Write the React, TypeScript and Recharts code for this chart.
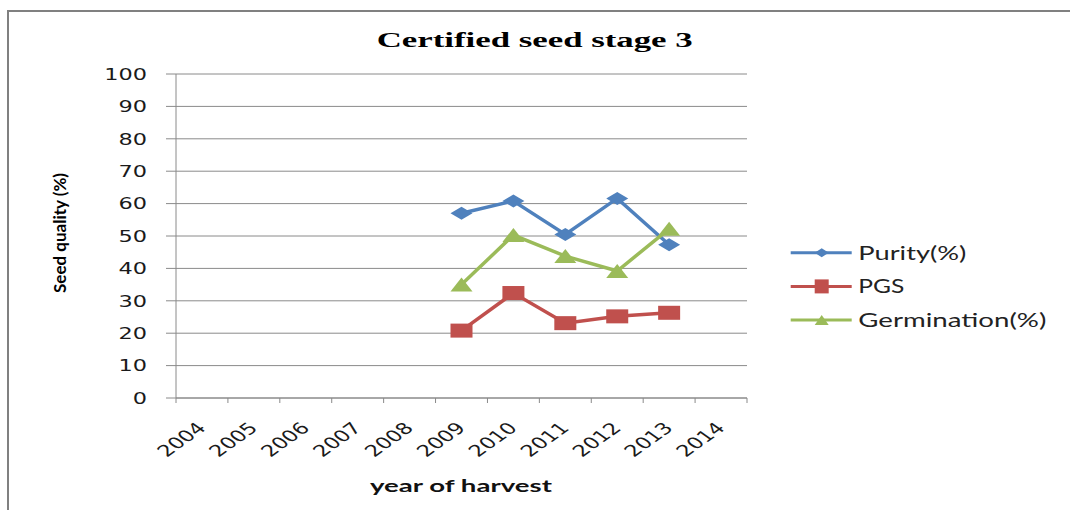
import { LineChart, Line, XAxis, YAxis, CartesianGrid } from "recharts";

const yearLabels = ["2004", "2005", "2006", "2007", "2008", "2009", "2010", "2011", "2012", "2013", "2014"];
const harvestYears = [2009, 2010, 2011, 2012, 2013];
const purity = [57, 60.8, 50.5, 61.6, 47.3];
const pgs = [20.8, 32.4, 23.1, 25.2, 26.3];
const germination = [35, 50.3, 43.8, 39.2, 52.2];
const yTicks = [0, 10, 20, 30, 40, 50, 60, 70, 80, 90, 100];

const BLUE = "#4f81bd";
const RED = "#c0504d";
const GREEN = "#9bbb59";
const GRID = "#8a8a8a";

const data = harvestYears.map((year, i) => ({
  year,
  purity: purity[i],
  pgs: pgs[i],
  germination: germination[i],
}));

// tick values at category boundaries (x.5) and at category centres (labels)
const xTicks: number[] = [];
yearLabels.forEach((label) => {
  const y = Number(label);
  xTicks.push(y - 0.5, y);
});
xTicks.push(Number(yearLabels[yearLabels.length - 1]) + 0.5);

const tickFont = "'DejaVu Sans', sans-serif";

function XTick(props: any) {
  const { x, y, payload } = props;
  const v = payload.value as number;
  if (v % 1 !== 0) {
    return <line x1={x} y1={y} x2={x} y2={y + 5} stroke={GRID} strokeWidth={1} />;
  }
  return (
    <g transform={`translate(${x + 5},${y + 31}) scale(1.4,1) rotate(-45)`}>
      <text textAnchor="end" fontFamily={tickFont} fontSize={16} fill="#1a1a1a">
        {String(v)}
      </text>
    </g>
  );
}

function YTick(props: any) {
  const { x, y, payload } = props;
  return (
    <g transform={`translate(${x},${y}) scale(1.4,1)`}>
      <text textAnchor="end" dy="0.36em" fontFamily={tickFont} fontSize={16} fill="#1a1a1a">
        {payload.value}
      </text>
    </g>
  );
}

function Diamond({ cx, cy, w = 11, h = 6.5, fill }: any) {
  if (cx == null || cy == null) return null;
  return <polygon points={`${cx},${cy - h} ${cx + w},${cy} ${cx},${cy + h} ${cx - w},${cy}`} fill={fill} />;
}

function Square({ cx, cy, w = 11, h = 7, fill }: any) {
  if (cx == null || cy == null) return null;
  return <rect x={cx - w} y={cy - h} width={w * 2} height={h * 2} fill={fill} />;
}

function Triangle({ cx, cy, w = 11, h = 7, fill }: any) {
  if (cx == null || cy == null) return null;
  return <polygon points={`${cx},${cy - h} ${cx + w},${cy + h} ${cx - w},${cy + h}`} fill={fill} />;
}

const legendItems = [
  { name: "Purity(%)", color: BLUE, len: 108, marker: "diamond" },
  { name: "PGS", color: RED, len: 46, marker: "square" },
  { name: "Germination(%)", color: GREEN, len: 188, marker: "triangle" },
];

export default function App() {
  return (
    <div style={{ position: "fixed", left: 0, top: 0, width: 1070, height: 510, overflow: "hidden", background: "#fff" }}>
      <div
        style={{
          position: "absolute",
          left: 7,
          top: 10,
          width: 1200,
          height: 700,
          border: "2px solid #808080",
          boxSizing: "border-box",
        }}
      />
      <div style={{ position: "absolute", left: 8, top: 8 }}>
        <LineChart width={1054} height={494} data={data} margin={{ top: 66, right: 315, bottom: 34, left: 88 }}>
          <CartesianGrid vertical={false} stroke={GRID} strokeWidth={1} />
          <XAxis
            dataKey="year"
            type="number"
            domain={[2003.5, 2014.5]}
            ticks={xTicks}
            interval={0}
            tick={<XTick />}
            tickLine={false}
            tickSize={0}
            tickMargin={0}
            axisLine={{ stroke: GRID }}
            height={70}
          />
          <YAxis
            type="number"
            domain={[0, 100]}
            ticks={yTicks}
            interval={0}
            width={80}
            tick={<YTick />}
            tickSize={10}
            tickMargin={19}
            tickLine={{ stroke: GRID }}
            axisLine={{ stroke: GRID }}
          />
          <Line
            dataKey="purity"
            stroke={BLUE}
            strokeWidth={3.5}
            isAnimationActive={false}
            dot={(p: any) => <Diamond key={`d${p.index}`} cx={p.cx} cy={p.cy} fill={BLUE} />}
            activeDot={false}
          />
          <Line
            dataKey="pgs"
            stroke={RED}
            strokeWidth={3.5}
            isAnimationActive={false}
            dot={(p: any) => <Square key={`s${p.index}`} cx={p.cx} cy={p.cy} fill={RED} />}
            activeDot={false}
          />
          <Line
            dataKey="germination"
            stroke={GREEN}
            strokeWidth={3.5}
            isAnimationActive={false}
            dot={(p: any) => <Triangle key={`t${p.index}`} cx={p.cx} cy={p.cy} fill={GREEN} />}
            activeDot={false}
          />
        </LineChart>
      </div>
      <svg width={1070} height={510} style={{ position: "absolute", left: 0, top: 0, pointerEvents: "none" }}>
        <text
          x={376.7}
          y={47}
          textLength={316}
          lengthAdjust="spacingAndGlyphs"
          fontFamily="'Liberation Serif', serif"
          fontWeight="bold"
          fontSize={22}
          fill="#000"
        >
          Certified seed stage 3
        </text>
        <text
          x={66}
          y={233}
          transform="rotate(-90 66 233)"
          textAnchor="middle"
          textLength={120}
          lengthAdjust="spacingAndGlyphs"
          fontFamily="Lato, sans-serif"
          fontWeight="bold"
          fontSize={17}
          fill="#000"
        >
          Seed quality (%)
        </text>
        <text
          x={370}
          y={492}
          textLength={182}
          lengthAdjust="spacingAndGlyphs"
          fontFamily="Lato, sans-serif"
          fontWeight="bold"
          fontSize={17}
          fill="#111"
        >
          year of harvest
        </text>
        {legendItems.map((item, i) => {
          const cy = 252.7 + i * 33.7;
          const cx = 821.7;
          return (
            <g key={item.name}>
              <line x1={790.7} y1={cy} x2={851.7} y2={cy} stroke={item.color} strokeWidth={3} />
              {item.marker === "diamond" && <Diamond cx={cx} cy={cy} w={7} h={4.5} fill={item.color} />}
              {item.marker === "square" && <Square cx={cx} cy={cy} w={7} h={7} fill={item.color} />}
              {item.marker === "triangle" && <Triangle cx={cx} cy={cy} w={7} h={5} fill={item.color} />}
              <text
                x={858.3}
                y={cy}
                dy="0.36em"
                textLength={item.len}
                lengthAdjust="spacingAndGlyphs"
                fontFamily="Lato, sans-serif"
                fontSize={19}
                fill="#222"
              >
                {item.name}
              </text>
            </g>
          );
        })}
      </svg>
    </div>
  );
}
